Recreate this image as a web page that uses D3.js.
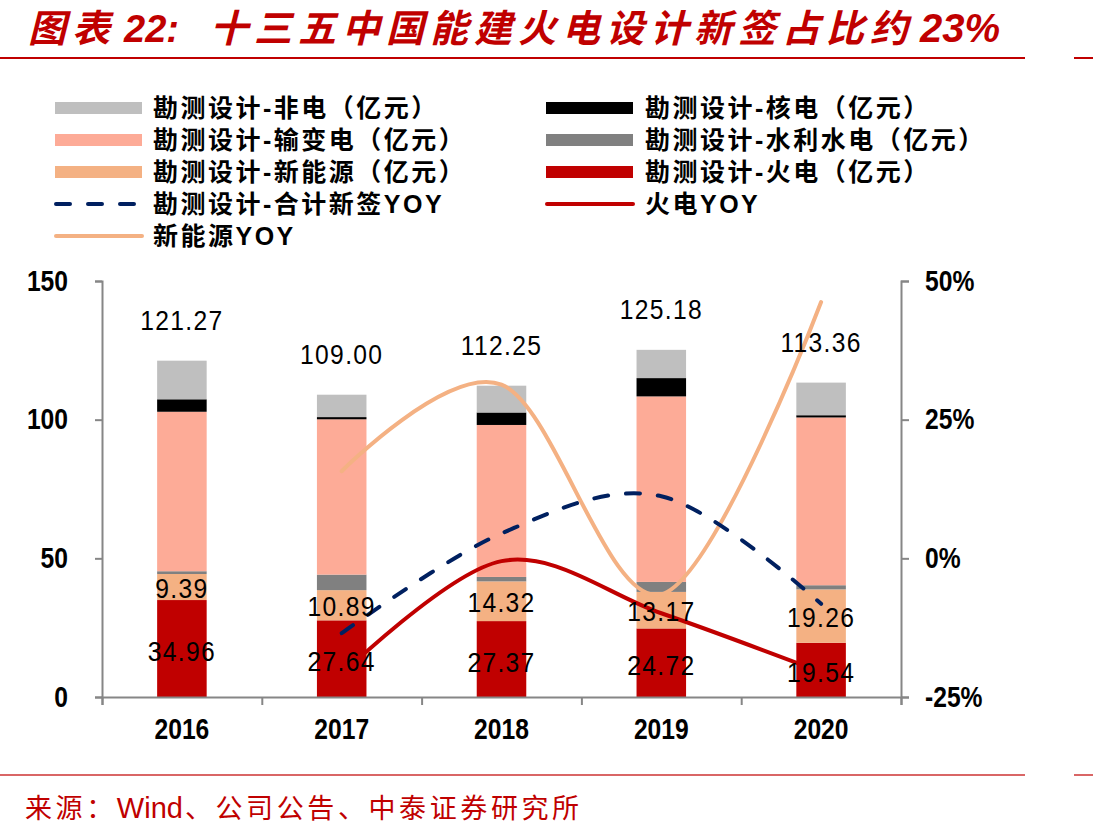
<!DOCTYPE html>
<html>
<head>
<meta charset="utf-8">
<script src="https://cdn.jsdelivr.net/npm/d3@7"></script>
<style>
  body { margin: 0; background: #fff; }
  svg text { font-family: "Liberation Sans", "Noto Sans CJK SC", sans-serif; }
</style>
</head>
<body>
<div id="chart"></div>
<script>
// Data (亿元 and %)
const years = ["2016", "2017", "2018", "2019", "2020"];
const totals = [121.27, 109.00, 112.25, 125.18, 113.36];
const thermal = [34.96, 27.64, 27.37, 24.72, 19.54];
const newEnergy = [9.39, 10.89, 14.32, 13.17, 19.26];
const hydro = [1.0, 5.6, 1.6, 3.6, 1.5];
const transmission = [57.5, 56.0, 54.8, 66.9, 60.5];
const nuclear = [4.5, 0.8, 4.5, 6.6, 0.8];
const nonPower = [13.92, 8.07, 9.66, 10.19, 11.76];
const totalYoy = [null, -13.5, 4.5, 11.2, -8.2];
const thermalYoy = [null, -21.0, -0.5, -9.9, -20.5];
const newEnergyYoy = [null, 15.7, 31.3, -6.5, 46.2];
const leftTicks = [0, 50, 100, 150];
const rightTicks = [-25, 0, 25, 50];

const width = 1093, height = 839;
const svg = d3.select("#chart").append("svg")
    .attr("width", width)
    .attr("height", height);

// Title and rules
const title = svg.append("text")
    .attr("x", 28).attr("y", 42)
    .attr("fill", "#c00000")
    .style("font-size", "38px")
    .style("font-weight", "bold")
    .style("font-style", "italic");
title.append("tspan").style("letter-spacing", "6px").text("图表");
title.append("tspan").attr("dx", 8).text("22:");
title.append("tspan").attr("x", 210).style("letter-spacing", "6px").text("十三五中国能建火电设计新签占比约");
title.append("tspan").attr("dx", 6).style("font-size", "40px").text("23%");

[[58, 1], [775, 0.6]].forEach(([yy, op]) => {
  svg.append("line").attr("x1", 0).attr("x2", 1025).attr("y1", yy).attr("y2", yy)
      .attr("stroke", "#c00000").attr("stroke-opacity", op).attr("stroke-width", 2);
  svg.append("line").attr("x1", 1074).attr("x2", width).attr("y1", yy).attr("y2", yy)
      .attr("stroke", "#c00000").attr("stroke-opacity", op).attr("stroke-width", 2);
});

const source = svg.append("text")
    .attr("x", 25).attr("y", 818)
    .attr("fill", "#c00000")
    .style("font-size", "27px");
source.append("tspan").style("letter-spacing", "3.6px").text("来源：");
source.append("tspan").attr("dx", 0).style("font-size", "29px").text("Wind");
source.append("tspan").attr("dx", 2).style("letter-spacing", "3.6px").text("、公司公告、中泰证券研究所");

// Scales
const x = d3.scaleBand().domain(years).range([102, 901]);
const y = d3.scaleLinear().domain([0, 150]).range([697, 281]);
const y2 = d3.scaleLinear().domain([-25, 50]).range([697, 281]);
const barW = x.bandwidth() * 0.31;

// Stack
const keys = ["thermal", "newEnergy", "hydro", "transmission", "nuclear", "nonPower"];
const colors = {
  thermal: "#c00000", newEnergy: "#f4b183", hydro: "#808080",
  transmission: "#fdab97", nuclear: "#000000", nonPower: "#bfbfbf"
};
const rows = years.map((yr, i) => ({
  year: yr, thermal: thermal[i], newEnergy: newEnergy[i], hydro: hydro[i],
  transmission: transmission[i], nuclear: nuclear[i], nonPower: nonPower[i]
}));
const stacked = d3.stack().keys(keys)(rows);

svg.append("g").selectAll("g")
    .data(stacked)
    .enter().append("g")
    .attr("fill", d => colors[d.key])
    .selectAll("rect")
    .data(d => d)
    .enter().append("rect")
    .attr("x", d => x(d.data.year) + (x.bandwidth() - barW) / 2)
    .attr("width", barW)
    .attr("y", d => y(d[1]))
    .attr("height", d => y(d[0]) - y(d[1]));

// Axes
const axisColor = "#868686";
const sx = 0.85; // narrow look of the tick font
const gLeft = svg.append("g").attr("transform", "translate(102,0)")
    .call(d3.axisLeft(y).tickValues(leftTicks).tickSize(7).tickPadding(27));
const gRight = svg.append("g").attr("transform", "translate(901,0)")
    .call(d3.axisRight(y2).tickValues(rightTicks).tickSize(8).tickPadding(16)
      .tickFormat(d => d + "%"));
const bounds = d3.scaleLinear().domain([0, years.length]).range([102, 901]);
const gBottom = svg.append("g").attr("transform", "translate(0,697)")
    .call(d3.axisBottom(bounds).ticks(years.length).tickSize(8).tickFormat(""));
const gLabels = svg.append("g").attr("transform", "translate(0,697)")
    .call(d3.axisBottom(x).tickSize(0).tickPadding(21));
gLabels.select(".domain").remove();

[gLeft, gRight, gBottom].forEach(g => {
  g.selectAll(".domain").attr("stroke", axisColor).attr("stroke-width", 2);
  g.selectAll(".tick line").attr("stroke", axisColor).attr("stroke-width", 2);
});
[gLeft, gRight, gLabels].forEach(g => {
  g.selectAll(".tick text")
      .attr("fill", "#000")
      .style("font-family", "'Liberation Sans'")
      .style("font-size", "29px")
      .style("font-weight", "bold")
      .each(function() {
        const t = d3.select(this);
        t.attr("x", (+t.attr("x") || 0) / sx).attr("transform", `scale(${sx},1)`);
      });
});

// YOY lines
const lineGen = d3.line()
    .defined(d => d.v !== null)
    .x(d => x(d.year) + x.bandwidth() / 2)
    .y(d => y2(d.v))
    .curve(d3.curveCatmullRom.alpha(0));
const toPts = arr => years.map((yr, i) => ({ year: yr, v: arr[i] }));

svg.append("path").datum(toPts(newEnergyYoy))
    .attr("d", lineGen).attr("fill", "none")
    .attr("stroke", "#f4b183").attr("stroke-width", 4).attr("stroke-linecap", "round");
svg.append("path").datum(toPts(thermalYoy))
    .attr("d", lineGen).attr("fill", "none")
    .attr("stroke", "#c00000").attr("stroke-width", 4).attr("stroke-linecap", "round");
svg.append("path").datum(toPts(totalYoy))
    .attr("d", lineGen).attr("fill", "none")
    .attr("stroke", "#002060").attr("stroke-width", 4)
    .attr("stroke-dasharray", "14,18").attr("stroke-linecap", "round");

// Data labels
function addLabels(values, yPos) {
  svg.append("g").selectAll("text")
      .data(years)
      .enter().append("text")
      .attr("transform", (d, i) =>
        `translate(${x(d) + x.bandwidth() / 2},${yPos(i)}) scale(0.88,1)`)
      .attr("text-anchor", "middle")
      .attr("dominant-baseline", "central")
      .attr("fill", "#000")
      .style("font-size", "28px")
      .style("letter-spacing", "1.5px")
      .text((d, i) => values[i].toFixed(2));
}
addLabels(totals, i => y(totals[i]) - 40);
addLabels(newEnergy, i => y(thermal[i] + newEnergy[i] / 2) + 1);
addLabels(thermal, i => y(thermal[i] / 2) + 3);

// Legend
const legendLeft = [
  { name: "勘测设计-非电（亿元）", type: "rect", color: "#bfbfbf" },
  { name: "勘测设计-输变电（亿元）", type: "rect", color: "#fdab97" },
  { name: "勘测设计-新能源（亿元）", type: "rect", color: "#f4b183" },
  { name: "勘测设计-合计新签YOY", type: "dash", color: "#002060" },
  { name: "新能源YOY", type: "line", color: "#f4b183" }
];
const legendRight = [
  { name: "勘测设计-核电（亿元）", type: "rect", color: "#000000" },
  { name: "勘测设计-水利水电（亿元）", type: "rect", color: "#808080" },
  { name: "勘测设计-火电（亿元）", type: "rect", color: "#c00000" },
  { name: "火电YOY", type: "line", color: "#c00000" }
];

function drawLegend(items, x0, tx) {
  const g = svg.append("g");
  items.forEach((it, i) => {
    const cy = 108 + i * 32;
    if (it.type === "rect") {
      g.append("rect").attr("x", x0).attr("y", cy - 6).attr("width", 87).attr("height", 12)
          .attr("fill", it.color);
    } else {
      g.append("line").attr("x1", x0 + 1).attr("x2", x0 + 87).attr("y1", cy).attr("y2", cy)
          .attr("stroke", it.color).attr("stroke-width", 4).attr("stroke-linecap", "round")
          .attr("stroke-dasharray", it.type === "dash" ? "14,18" : null);
    }
    g.append("text")
        .attr("x", tx).attr("y", cy)
        .attr("dominant-baseline", "central")
        .attr("fill", "#000")
        .style("font-size", "25px")
        .style("font-weight", "bold")
        .style("letter-spacing", "2.5px")
        .text(it.name);
  });
}
drawLegend(legendLeft, 55, 153);
drawLegend(legendRight, 546, 645);
</script>
</body>
</html>
